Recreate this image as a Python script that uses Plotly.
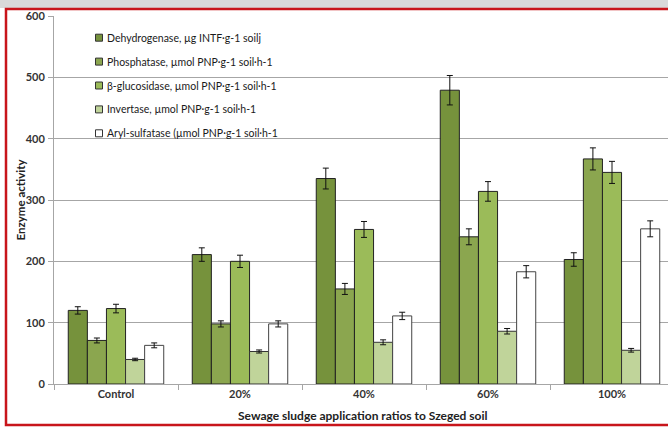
import plotly.graph_objects as go

categories = ["Control", "20%", "40%", "60%", "100%"]

series_names = [
    "Dehydrogenase, µg INTF·g-1 soilj",
    "Phosphatase, µmol PNP·g-1 soil·h-1",
    "β-glucosidase, µmol PNP·g-1 soil·h-1",
    "Invertase, µmol PNP·g-1 soil·h-1",
    "Aryl-sulfatase (µmol PNP·g-1 soil·h-1",
]

dehydrogenase = [120, 211, 335, 479, 203]
phosphatase = [71, 98, 155, 240, 367]
glucosidase = [123, 200, 252, 314, 345]
invertase = [40, 53, 68, 86, 55]
arylsulfatase = [63, 98, 111, 183, 253]

dehydrogenase_err = [6, 11, 17, 24, 11]
phosphatase_err = [4, 5, 9, 13, 18]
glucosidase_err = [7, 10, 13, 16, 18]
invertase_err = [2, 2.5, 4, 4.5, 3]
arylsulfatase_err = [4, 5, 6, 10, 13]

y_ticks = [0, 100, 200, 300, 400, 500, 600]

x_title = "Sewage sludge application ratios to Szeged soil"
y_title = "Enzyme activity"

colors = ["#76923C", "#8BA64F", "#9BBB59", "#C0D49A", "#FFFFFF"]
outline = ["#222222", "#222222", "#222222", "#333333", "#444444"]

values = [dehydrogenase, phosphatase, glucosidase, invertase, arylsulfatase]
errors = [dehydrogenase_err, phosphatase_err, glucosidase_err, invertase_err, arylsulfatase_err]

W, H = 668, 428
ml, mt, mb = 54, 16, 44
pw = W - ml
ph = H - mt - mb


def px(x):
    return (x - ml) / pw


def py(y):
    return (H - mb - y) / ph


fig = go.Figure()
for i, (name, vals, errs) in enumerate(zip(series_names, values, errors)):
    fig.add_trace(go.Bar(
        x=categories, y=vals, name=name, showlegend=False,
        marker=dict(color=colors[i], line=dict(color=outline[i], width=1)),
        error_y=dict(type="data", array=errs, visible=True, color="#111111",
                     thickness=1, width=3),
    ))

# custom legend (small swatches + text, as in the reference)
shapes = [
    dict(type="rect", xref="paper", yref="paper",
         x0=px(0), x1=px(W), y0=py(0), y1=py(8),
         fillcolor="#D9D9D9", line=dict(width=0), layer="above"),
    dict(type="rect", xref="paper", yref="paper",
         x0=px(6), x1=px(W + 20), y0=py(9), y1=py(425),
         fillcolor="rgba(0,0,0,0)", line=dict(color="#C8151B", width=2.5), layer="above"),
]
annotations = []
for i, name in enumerate(series_names):
    yc = 37.7 + 23.9 * i
    shapes.append(dict(type="rect", xref="paper", yref="paper",
                       x0=px(95.5), x1=px(102.5), y0=py(yc - 3.5), y1=py(yc + 3.5),
                       fillcolor=colors[i], line=dict(color="#333333", width=1),
                       layer="above"))
    annotations.append(dict(xref="paper", yref="paper", x=px(105), y=py(yc),
                            xanchor="left", yanchor="middle", showarrow=False,
                            text=name, font=dict(size=10.5, color="#1a1a1a")))

annotations.append(dict(xref="paper", yref="paper", x=px(363), y=py(415),
                        xanchor="center", yanchor="middle", showarrow=False,
                        text=f"<b>{x_title}</b>", font=dict(size=12, color="#222222")))
annotations.append(dict(xref="paper", yref="paper", x=px(19.5), y=py(200),
                        xanchor="center", yanchor="middle", showarrow=False, textangle=-90,
                        text=f"<b>{y_title}</b>", font=dict(size=11.5, color="#222222")))

fig.update_layout(
    width=W, height=H,
    margin=dict(l=ml, r=0, t=mt, b=mb, pad=0),
    paper_bgcolor="white", plot_bgcolor="white",
    barmode="group", bargap=0.23, bargroupgap=0,
    font=dict(family="Lato, 'Open Sans', sans-serif", color="#222222"),
    showlegend=False,
    xaxis=dict(
        type="category", range=[-0.5, 4.5 - 6 / 124],
        showline=True, linecolor="#A6A6A6", linewidth=1,
        ticks="outside", tickson="boundaries", ticklen=5, tickcolor="#A6A6A6",
        tickfont=dict(size=11, color="#333333", weight="bold"),
        showgrid=False,
    ),
    yaxis=dict(
        range=[0, 600], tickvals=y_ticks,
        showline=True, linecolor="#A6A6A6", linewidth=1,
        ticks="outside", ticklen=5, tickcolor="#A6A6A6",
        showgrid=True, gridcolor="#A6A6A6", gridwidth=1,
        zeroline=False,
        tickfont=dict(size=11, color="#333333", weight="bold"),
        ticklabelstandoff=1,
    ),
    shapes=shapes,
    annotations=annotations,
)

fig.write_html("out.html", config={"displayModeBar": False},
               post_script="document.body.style.margin='0';")
